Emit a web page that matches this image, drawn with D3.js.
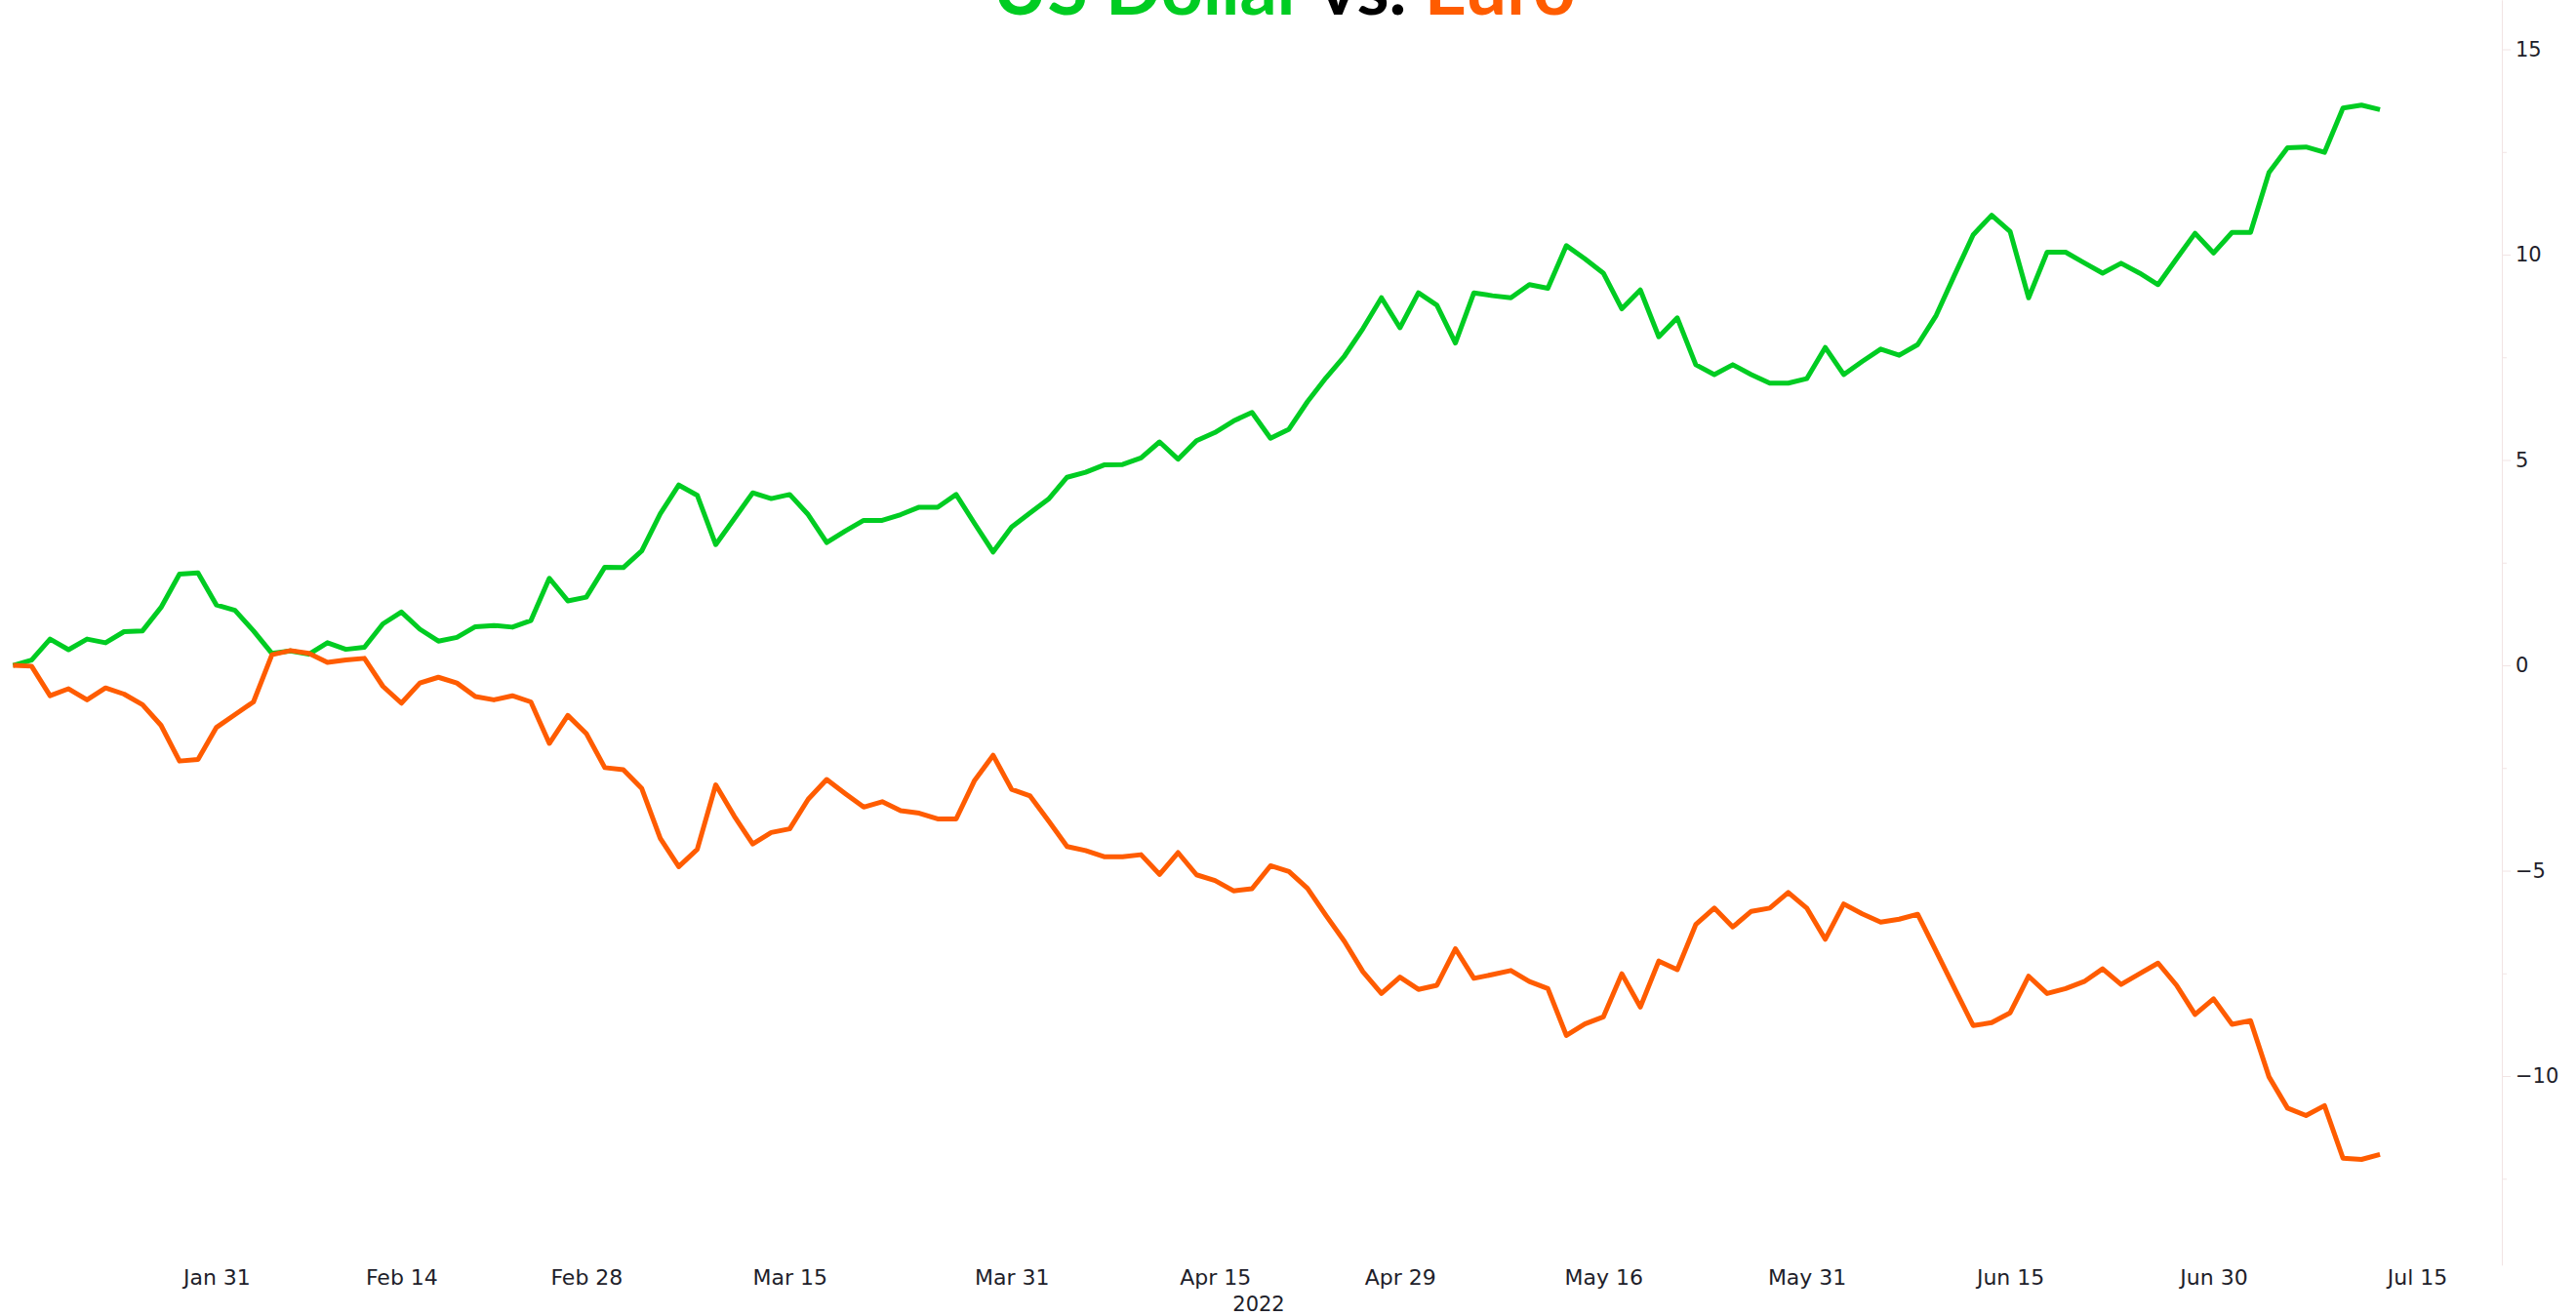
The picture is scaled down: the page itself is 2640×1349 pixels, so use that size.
<!DOCTYPE html>
<html>
<head>
<meta charset="utf-8">
<script src="https://cdn.jsdelivr.net/npm/d3@7"></script>
<style>
  html, body { margin: 0; padding: 0; background: #fff; }
  svg { display: block; }
</style>
</head>
<body>
<svg id="chart" width="2640" height="1349"></svg>
<script>
// ---- data ----
const startDate = "2022-01-14"; // first trading day shown (weekday series)
const usdChange = [0,0.13,0.64,0.38,0.64,0.55,0.82,0.84,1.41,2.22,2.25,1.47,1.34,0.84,0.29,0.35,0.27,0.55,0.39,0.44,
  1.01,1.30,0.88,0.59,0.68,0.94,0.97,0.93,1.09,2.12,1.57,1.66,2.39,2.38,2.79,3.69,4.39,4.14,2.94,3.57,
  4.20,4.06,4.16,3.67,2.99,3.27,3.53,3.53,3.67,3.85,3.85,4.16,3.45,2.76,3.37,3.71,4.05,4.58,4.70,4.88,
  4.89,5.05,5.44,5.02,5.47,5.67,5.95,6.16,5.53,5.75,6.42,7.00,7.53,8.20,8.95,8.22,9.07,8.77,7.85,9.07,
  9.00,8.95,9.27,9.18,10.22,9.90,9.55,8.68,9.14,8.00,8.46,7.32,7.08,7.32,7.08,6.87,6.87,6.98,7.74,7.08,
  7.40,7.70,7.55,7.81,8.52,9.51,10.48,10.96,10.56,8.95,10.06,10.06,9.80,9.55,9.79,9.55,9.27,9.90,10.52,10.04,
  10.54,10.54,12.00,12.60,12.62,12.49,13.57,13.64,13.53];
const eurChange = [0,-0.02,-0.74,-0.57,-0.84,-0.55,-0.70,-0.96,-1.46,-2.33,-2.29,-1.51,-1.20,-0.89,0.26,0.36,0.29,0.07,0.13,0.17,
  -0.51,-0.92,-0.43,-0.29,-0.43,-0.76,-0.84,-0.74,-0.89,-1.90,-1.22,-1.66,-2.49,-2.54,-3.00,-4.21,-4.90,-4.48,-2.91,-3.67,
  -4.35,-4.07,-3.98,-3.26,-2.78,-3.12,-3.45,-3.32,-3.54,-3.60,-3.74,-3.74,-2.80,-2.19,-3.02,-3.18,-3.79,-4.41,-4.51,-4.66,
  -4.66,-4.61,-5.09,-4.56,-5.10,-5.24,-5.49,-5.44,-4.88,-5.02,-5.43,-6.09,-6.72,-7.46,-7.99,-7.59,-7.89,-7.79,-6.90,-7.62,
  -7.53,-7.43,-7.70,-7.87,-9.01,-8.73,-8.56,-7.51,-8.32,-7.20,-7.41,-6.31,-5.91,-6.37,-5.99,-5.91,-5.53,-5.91,-6.67,-5.81,
  -6.05,-6.25,-6.18,-6.06,-6.96,-7.87,-8.77,-8.70,-8.46,-7.57,-7.99,-7.87,-7.70,-7.39,-7.77,-7.51,-7.25,-7.79,-8.50,-8.12,
  -8.74,-8.65,-10.02,-10.78,-10.96,-10.72,-12.00,-12.03,-11.91];
const xTickDates = ["2022-01-31","2022-02-14","2022-02-28","2022-03-15","2022-03-31","2022-04-15",
  "2022-04-29","2022-05-16","2022-05-31","2022-06-15","2022-06-30","2022-07-15"];
const xTickLabels = ["Jan 31","Feb 14","Feb 28","Mar 15","Mar 31","Apr 15",
  "Apr 29","May 16","May 31","Jun 15","Jun 30","Jul 15"];
const yMajorTicks = [-10,-5,0,5,10,15];
const yMinorTicks = [-12.5,-7.5,-2.5,2.5,7.5,12.5];
const yearLabel = "2022";
const titleParts = [["US Dollar","#00cc22"],[" vs. ","#000000"],["Euro","#ff5c00"]];
const seriesColors = {usd: "#00cc22", eur: "#ff5c00"};

// ---- helpers ----
const parse = d3.utcParse("%Y-%m-%d");
const t0 = parse(startDate);
function weekdayIndex(dateStr) {
  const t = parse(dateStr);
  const days = d3.utcDay.range(t0, t).filter(d => d.getUTCDay() !== 0 && d.getUTCDay() !== 6);
  return days.length;
}

const svg = d3.select("#chart");
const x = d3.scaleLinear().domain([0, 130]).range([13.4, 2477]);
const y = d3.scaleLinear().domain([-14.6, 16.2]).range([1296.7, 0]);

// ---- y axis (right) ----
const axisColor = "#f2e4e4";
const yMinor = svg.append("g").attr("transform", "translate(2564,0)")
  .call(d3.axisRight(y).tickValues(yMinorTicks).tickSize(5).tickSizeOuter(0).tickFormat(""));
yMinor.selectAll("line").attr("stroke", axisColor);
yMinor.select(".domain").attr("stroke", axisColor);

const yAx = svg.append("g").attr("transform", "translate(2564,0)")
  .call(d3.axisRight(y).tickValues(yMajorTicks).tickSize(9).tickSizeOuter(0).tickPadding(5));
yAx.select(".domain").attr("stroke", axisColor);
yAx.selectAll("line").attr("stroke", axisColor);
yAx.selectAll("text").attr("font-family", "DejaVu Sans").attr("font-size", 21).attr("fill", "#1e1e2a");

// ---- x axis (bottom labels only) ----
const xIdx = xTickDates.map(weekdayIndex);
const xAx = svg.append("g").attr("transform", "translate(0,1296)")
  .call(d3.axisBottom(x).tickValues(xIdx).tickFormat((d, i) => xTickLabels[i]).tickSize(0).tickPadding(5));
xAx.select(".domain").remove();
xAx.selectAll("text").attr("font-family", "DejaVu Sans").attr("font-size", 22).attr("fill", "#1e1e2a");

svg.append("text").attr("x", 1290).attr("y", 1344).attr("text-anchor", "middle")
  .attr("font-family", "DejaVu Sans").attr("font-size", 21).attr("fill", "#1e1e2a").text(yearLabel);

// ---- lines ----
const line = d3.line().x((d, i) => x(i)).y(d => y(d));
svg.append("path").datum(usdChange).attr("d", line).attr("fill", "none")
  .attr("stroke", seriesColors.usd).attr("stroke-width", 5).attr("stroke-linejoin", "round");
svg.append("path").datum(eurChange).attr("d", line).attr("fill", "none")
  .attr("stroke", seriesColors.eur).attr("stroke-width", 5).attr("stroke-linejoin", "round");

// ---- title (clipped at top, as in the reference) ----
const title = svg.append("text").attr("x", 1316).attr("y", 15).attr("text-anchor", "middle")
  .attr("font-family", "Lato").attr("font-weight", 700).attr("font-size", 100);
titleParts.forEach(([t, c]) => title.append("tspan").attr("fill", c).text(t));
const w = title.node().getComputedTextLength();
title.attr("font-size", 100 * 597 / w);
</script>
</body>
</html>
